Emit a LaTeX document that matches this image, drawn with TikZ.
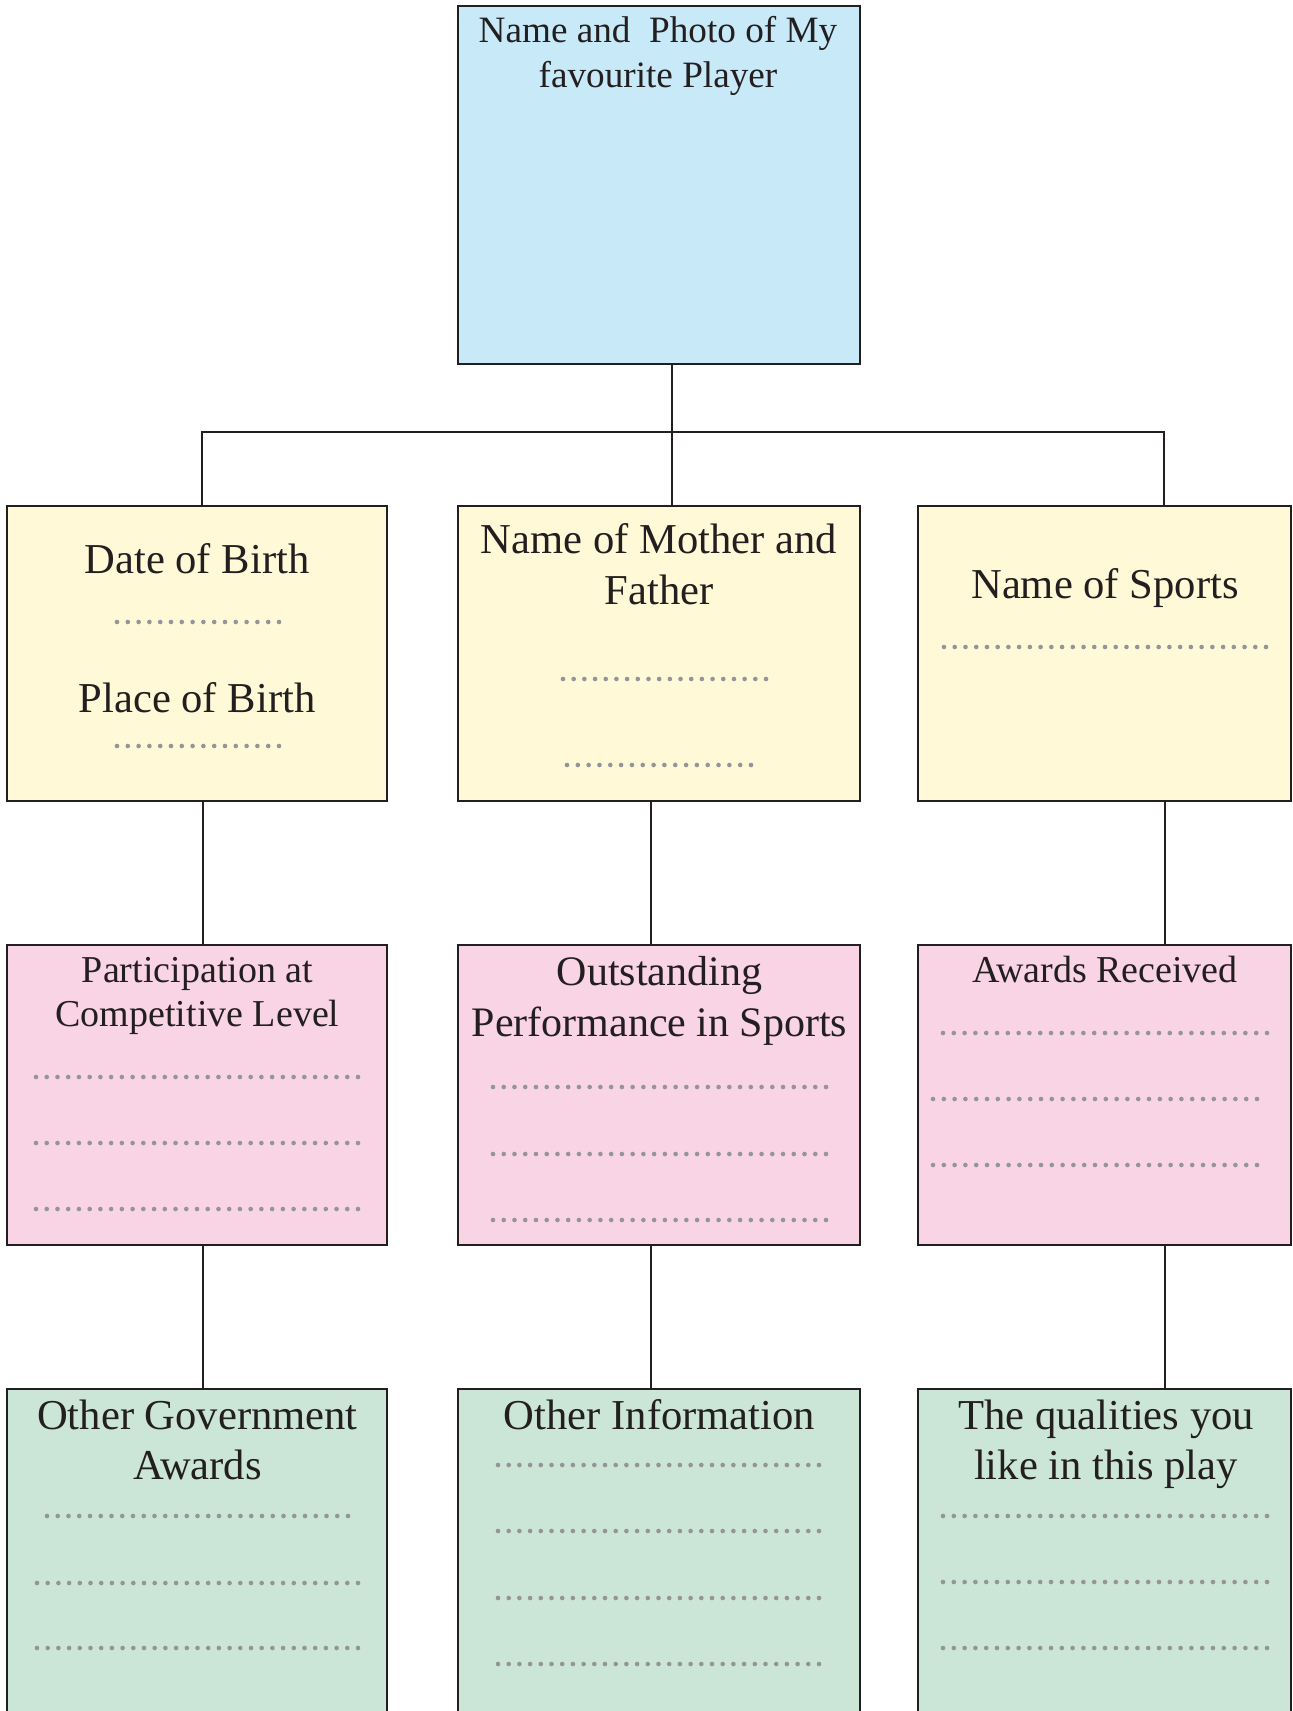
\documentclass[tikz,border=0pt]{standalone}
\usepackage{fontspec}
\setmainfont{Liberation Serif}
\definecolor{lc}{HTML}{231F20}
\definecolor{cblue}{HTML}{C8E9F8}
\definecolor{cyel}{HTML}{FFF9D7}
\definecolor{cpink}{HTML}{F9D4E5}
\definecolor{cgreen}{HTML}{CBE5D6}
\definecolor{dotc}{HTML}{939598}
\newcommand\dotrow[4]{\foreach \i in {1,...,#4}{\fill[dotc] ({#1+(\i-1)*(#2-#1)/(#4-1)},#3) circle (1.15pt);}}
\begin{document}
\begin{tikzpicture}[x=0.5pt,y=-0.5pt,
  box/.style={draw=lc, line width=1.3pt, inner sep=0pt, outer sep=0pt, anchor=north west},
  conn/.style={draw=lc, line width=1.3pt},
  txtL/.style={anchor=base, text=lc, inner sep=0pt, font=\fontsize{21.3pt}{25pt}\selectfont},
  txtM/.style={anchor=base, text=lc, inner sep=0pt, font=\fontsize{21pt}{25pt}\selectfont},
  txtS/.style={anchor=base, text=lc, inner sep=0pt, font=\fontsize{19pt}{22pt}\selectfont},
  txtT/.style={anchor=base, text=lc, inner sep=0pt, font=\fontsize{18.6pt}{22pt}\selectfont}]
\fill[white] (0,0) rectangle (1293,1711);
\useasboundingbox (0,0) rectangle (1293,1711);
\clip (0,0) rectangle (1293,1711);

% boxes
\node[box, fill=cblue, minimum width=201pt, minimum height=179pt] (top) at (458,6) {};
\node[box, fill=cyel, minimum width=190pt, minimum height=147.5pt] (a2) at (7,506) {};
\node[box, fill=cyel, minimum width=201pt, minimum height=147.5pt] (b2) at (458,506) {};
\node[box, fill=cyel, minimum width=186.5pt, minimum height=147.5pt] (c2) at (918,506) {};
\node[box, fill=cpink, minimum width=190pt, minimum height=150pt] (a3) at (7,945) {};
\node[box, fill=cpink, minimum width=201pt, minimum height=150pt] (b3) at (458,945) {};
\node[box, fill=cpink, minimum width=186.5pt, minimum height=150pt] (c3) at (918,945) {};
\node[box, fill=cgreen, minimum width=190pt, minimum height=170pt] (a4) at (7,1389) {};
\node[box, fill=cgreen, minimum width=201pt, minimum height=170pt] (b4) at (458,1389) {};
\node[box, fill=cgreen, minimum width=186.5pt, minimum height=170pt] (c4) at (918,1389) {};

% connector coordinates
\coordinate (xm0) at (672,0);
\coordinate (hl) at (202,432);
\coordinate (hr) at (1164,432);
\coordinate (xl) at (203,0);
\coordinate (xm) at (651,0);
\coordinate (xr) at (1165,0);

\draw[conn] (top.south -| xm0) -- (b2.north -| xm0);
\draw[conn] (a2.north -| hl) -- (hl) -- (hr) -- (c2.north -| hr);
\draw[conn] (a2.south -| xl) -- (a3.north -| xl);
\draw[conn] (b2.south -| xm) -- (b3.north -| xm);
\draw[conn] (c2.south -| xr) -- (c3.north -| xr);
\draw[conn] (a3.south -| xl) -- (a4.north -| xl);
\draw[conn] (b3.south -| xm) -- (b4.north -| xm);
\draw[conn] (c3.south -| xr) -- (c4.north -| xr);

% texts
\node[txtT] (t1) at (658,43) {Name and\ \ Photo of My};
\node[txtT] (t2) at (658,88) {favourite Player};

\node[txtL] (a2t1) at (197,573) {Date of Birth};
\node[txtL] (a2t2) at (197,712) {Place of Birth};
\dotrow{117}{279}{622}{16}
\dotrow{117}{279}{746}{16}

\node[txtL] (b2t1) at (659,553) {Name of Mother and};
\node[txtL] (b2t2) at (659,604) {Father};
\dotrow{563}{766}{679}{20}
\dotrow{567}{751}{765}{18}

\node[txtL] (c2t1) at (1105,598) {Name of Sports};
\dotrow{944}{1266}{647}{31}

\node[txtS] (a3t1) at (197.5,982) {Participation at};
\node[txtS] (a3t2) at (197.5,1026) {Competitive Level};
\dotrow{36}{358}{1077}{31}
\dotrow{36}{358}{1143}{31}
\dotrow{36}{358}{1209}{31}

\node[txtM] (b3t1) at (659.5,985) {Outstanding};
\node[txtM] (b3t2) at (659.5,1036) {Performance in Sports};
\dotrow{493}{826}{1087}{32}
\dotrow{493}{826}{1154}{32}
\dotrow{493}{826}{1220}{32}

\node[txtS] (c3t1) at (1105,982) {Awards Received};
\dotrow{943}{1267}{1033}{31}
\dotrow{933}{1257}{1099}{31}
\dotrow{933}{1257}{1165}{31}

\node[txtL] (a4t1) at (197.5,1429) {Other Government};
\node[txtL] (a4t2) at (197.5,1479) {Awards};
\dotrow{47}{348}{1516}{29}
\dotrow{37}{358}{1583}{31}
\dotrow{37}{358}{1648}{31}

\node[txtL] (b4t1) at (659.5,1429) {Other Information};
\dotrow{498}{819}{1465}{31}
\dotrow{498}{819}{1531}{31}
\dotrow{498}{819}{1598}{31}
\dotrow{498}{819}{1664}{31}

\node[txtL] (c4t1) at (1106,1429) {The qualities you};
\node[txtL] (c4t2) at (1106,1479) {like in this play};
\dotrow{943}{1267}{1516}{31}
\dotrow{943}{1267}{1582}{31}
\dotrow{943}{1267}{1648}{31}
\end{tikzpicture}
\end{document}
